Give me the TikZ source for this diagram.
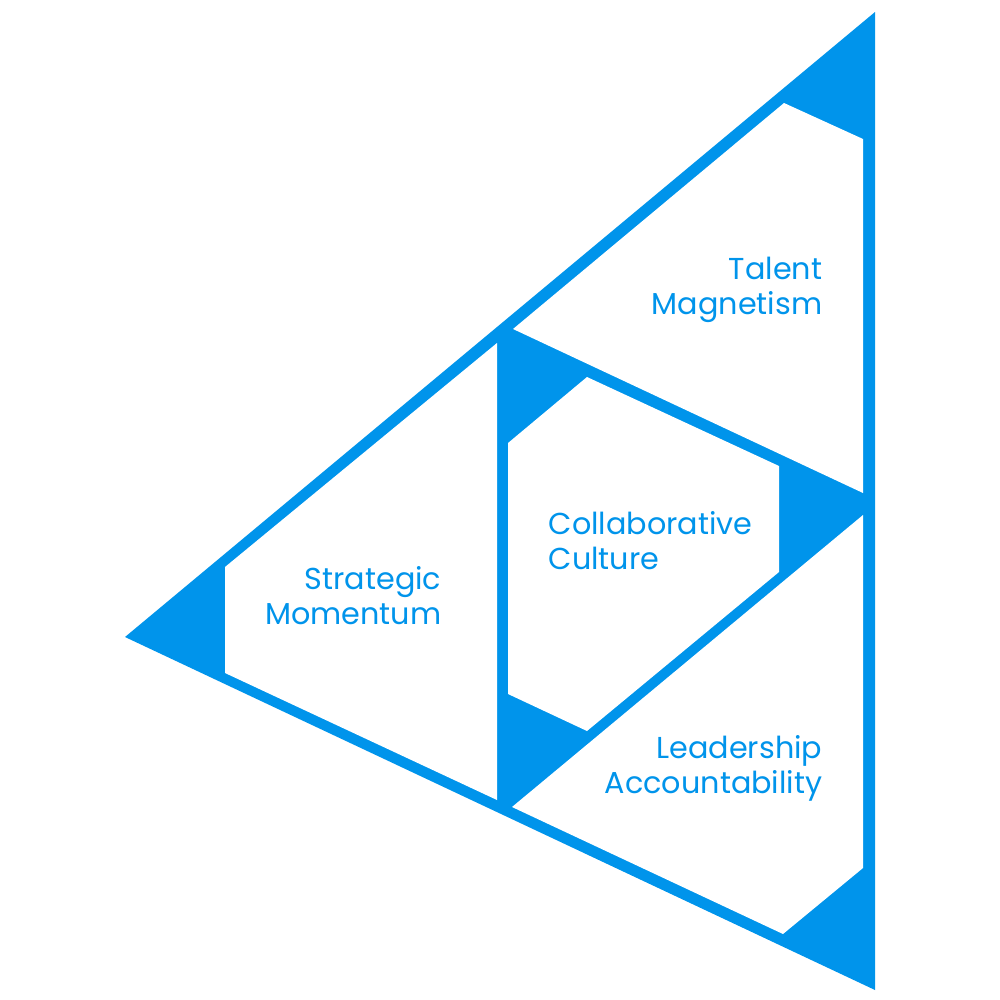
\documentclass[tikz,border=0pt]{standalone}
\usepackage{fontspec}
\setmainfont{Poppins}
\usepackage{tikz}
\definecolor{pyrblue}{HTML}{0094EB}

\begin{document}
\begin{tikzpicture}[x=0.01cm,y=-0.01cm,
        cell/.style={fill=white},
        lbl/.style={text=pyrblue,font=\fontsize{8.6}{10}\selectfont,inner sep=0pt}]
        \useasboundingbox (0,0) rectangle (1000,1000);
        \coordinate (L) at (125,637);
		\coordinate (T) at (875,12);
		\coordinate (B) at (875,990);
		\fill[pyrblue] (L)--(T)--(B)--cycle;
		% talent
		\fill[cell] (513,329)--(784,103)--(863,139)--(863,493)--cycle;
		% culture
		\fill[cell] (508,443)--(587,377)--(779,466)--(779,572)--(587,731)--(508,694)--cycle;
		% leadership
		\fill[cell] (512,807)--(863,515)--(863,868)--(783,934)--cycle;
		% strategy
		\fill[cell] (225,567)--(497,343)--(497,800)--(225,673)--cycle;
		\node[lbl,anchor=east,align=right] (talent) at (823,290) {Talent\\Magnetism};
		\node[lbl,anchor=west,align=left] (culture) at (548,541) {Collaborative\\Culture};
		\node[lbl,anchor=east,align=right] (strategy) at (442,596) {Strategic\\Momentum};
		\node[lbl,anchor=east,align=right] (lead) at (823,768) {Leadership\\Accountability};
\end{tikzpicture}
\end{document}
